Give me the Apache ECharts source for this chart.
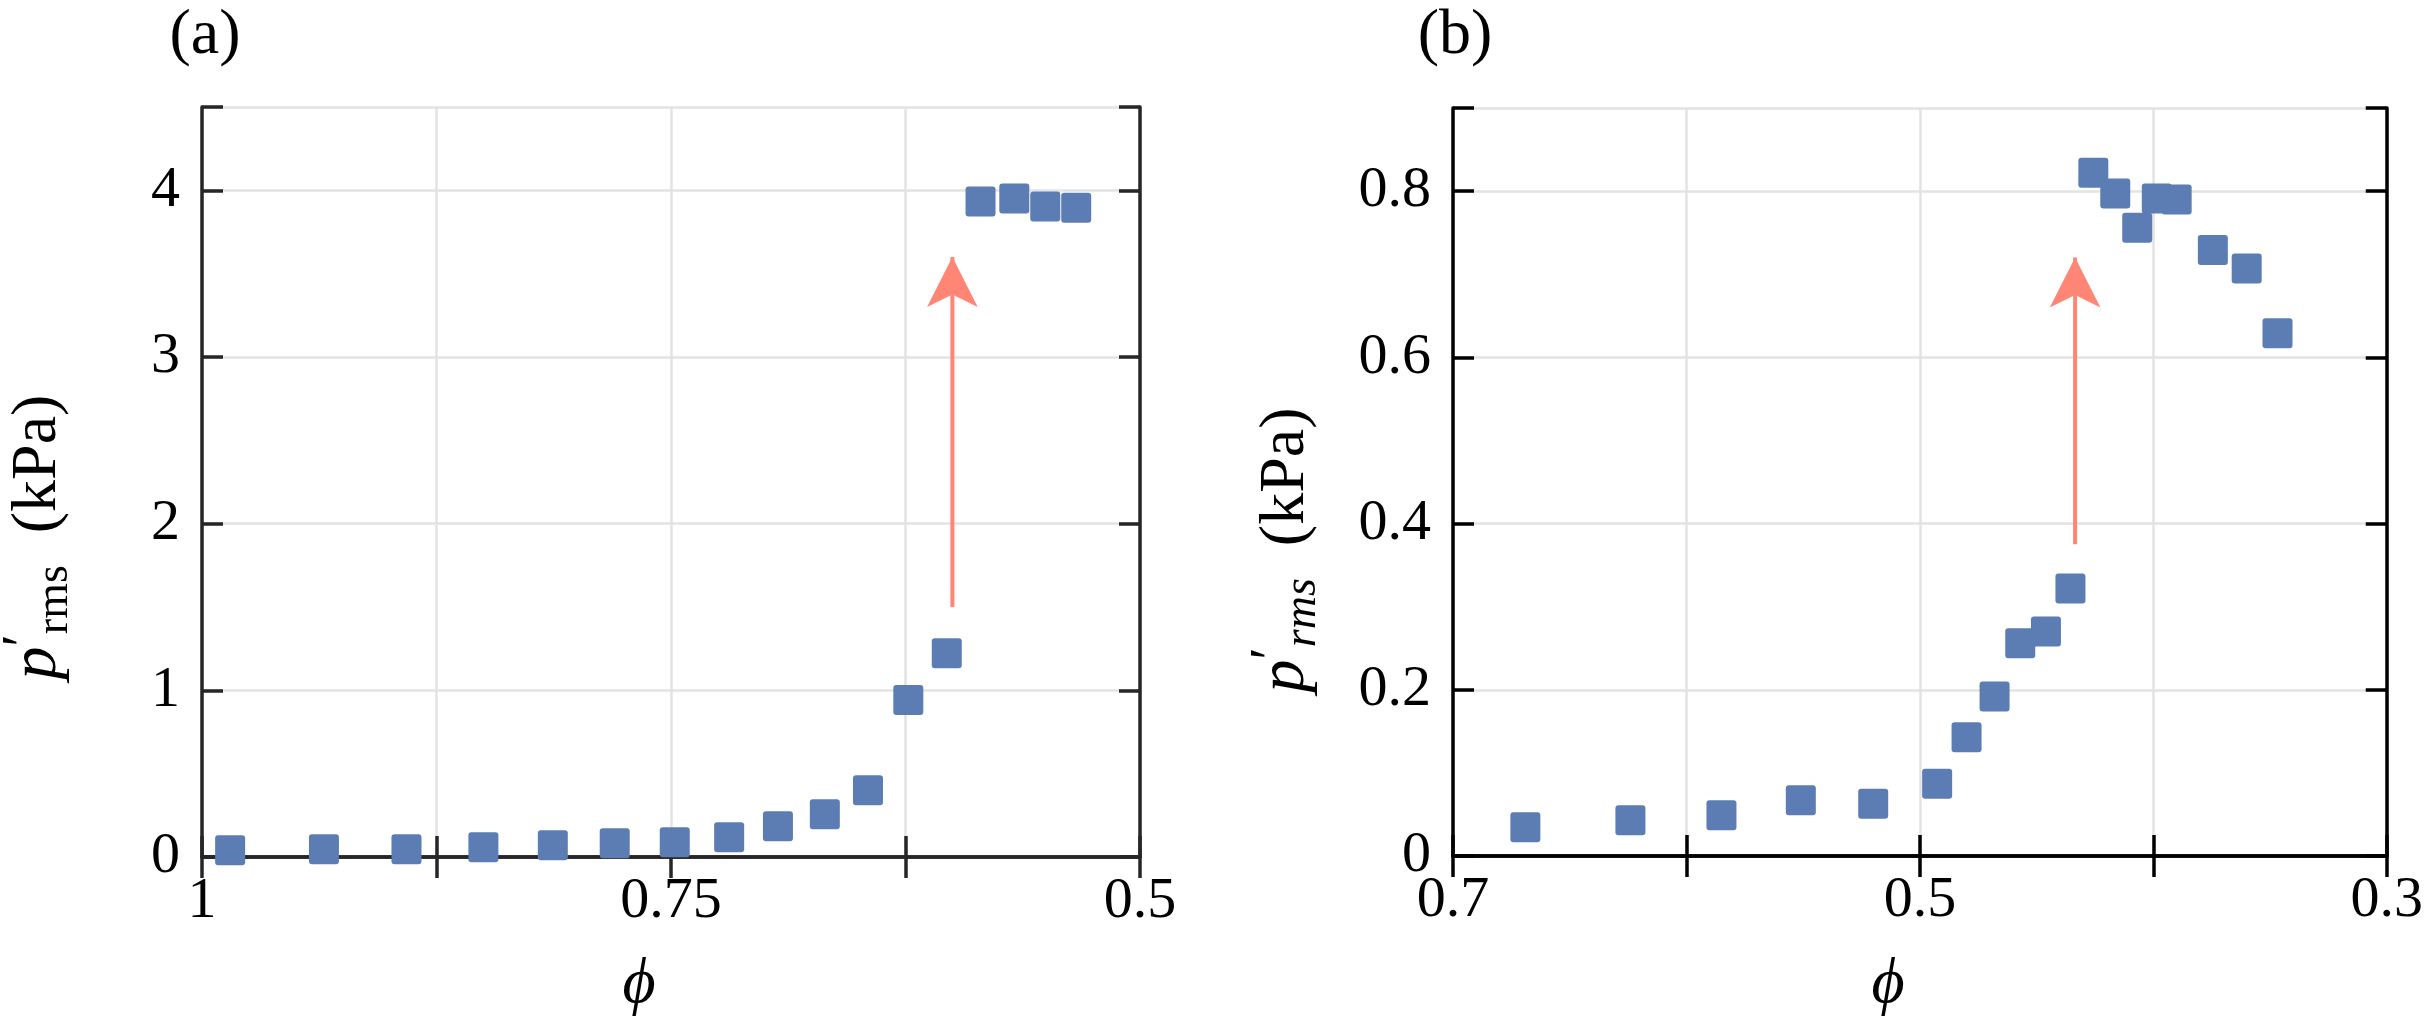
<!DOCTYPE html>
<html lang="en">
<head>
    <meta charset="UTF-8">
    <title>p'rms vs phi</title>
    <script src="https://cdn.jsdelivr.net/npm/echarts@6/dist/echarts.min.js"></script>
    <style>
        html, body { margin: 0; padding: 0; background: #fff; }
        #main { width: 2426px; height: 1018px; }
    </style>
</head>
<body>
<div id="main"></div>

<script type="text/javascript">
    // panel (a)
    var phiA = [0.985, 0.935, 0.891, 0.850, 0.813, 0.780, 0.748, 0.719, 0.693, 0.668, 0.645,
                0.6235, 0.603, 0.585, 0.567, 0.5505, 0.534];
    var prmsA = [0.040, 0.046, 0.046, 0.058, 0.070, 0.082, 0.088, 0.118, 0.184, 0.256, 0.400,
                 0.942, 1.222, 3.933, 3.951, 3.903, 3.896];
    // panel (b)
    var phiB = [0.669, 0.624, 0.585, 0.551, 0.520, 0.4926, 0.480, 0.468, 0.457, 0.446, 0.4355,
                0.4257, 0.4163, 0.4069, 0.3985, 0.390, 0.3745, 0.360, 0.3468];
    var prmsB = [0.0345, 0.043, 0.049, 0.067, 0.063, 0.087, 0.143, 0.192, 0.256, 0.270, 0.322,
                 0.822, 0.797, 0.756, 0.791, 0.790, 0.729, 0.707, 0.629];
    // arrows: x, y start, y end (centre of the head)
    var arrowA = [0.6, 1.5, 3.6];
    var arrowB = [0.4335, 0.375, 0.72];
    // tick labels that are shown
    var xLabelsA = ['1', '0.75', '0.5'];
    var xLabelsB = ['0.7', '0.5', '0.3'];

    var FONT = "'Liberation Serif', 'DejaVu Serif', serif";
    var BLUE = '#5b7db3';
    var SALMON = '#ff8575';
    var SQUARE = 'path://M2,0H18Q20,0 20,2V18Q20,20 18,20H2Q0,20 0,18V2Q0,0 2,0Z';

    function zip(xs, ys) {
        return xs.map(function (x, i) { return [x, ys[i]]; });
    }

    function xAxisPair(gridIndex, min, max, interval, labels, color) {
        var line = { show: true, lineStyle: { color: color, width: 3.5 } };
        var tick = { show: true, inside: true, length: 21, lineStyle: { color: color, width: 3.5 } };
        return [{
            type: 'value', gridIndex: gridIndex, position: 'bottom', inverse: true,
            min: min, max: max, interval: interval,
            axisLine: line, axisTick: tick,
            axisLabel: {
                margin: 16, fontFamily: FONT, fontSize: 58, color: '#000',
                formatter: function (v) {
                    var s = String(+v.toFixed(3));
                    return labels.indexOf(s) >= 0 ? s : '';
                }
            },
            splitLine: { show: true, lineStyle: { color: '#e3e3e3', width: 2.5 } }
        }, {
            type: 'value', gridIndex: gridIndex, position: 'top', inverse: true,
            min: min, max: max, interval: interval,
            axisLine: line, axisTick: tick,
            axisLabel: { show: false }, splitLine: { show: false }
        }];
    }

    function yAxisPair(gridIndex, max, interval, color) {
        var line = { show: true, lineStyle: { color: color, width: 3.5 } };
        var tick = { show: true, inside: true, length: 21, lineStyle: { color: color, width: 3.5 } };
        return [{
            type: 'value', gridIndex: gridIndex, position: 'left',
            min: 0, max: max, interval: interval,
            axisLine: line, axisTick: tick,
            axisLabel: {
                margin: 22, fontFamily: FONT, fontSize: 58, color: '#000',
                formatter: function (v) {
                    return v >= max - 1e-9 ? '' : String(+v.toFixed(3));
                }
            },
            splitLine: { show: true, lineStyle: { color: '#e3e3e3', width: 2.5 } }
        }, {
            type: 'value', gridIndex: gridIndex, position: 'right',
            min: 0, max: max, interval: interval,
            axisLine: line, axisTick: tick,
            axisLabel: { show: false }, splitLine: { show: false }
        }];
    }

    function arrowSeries(arrow, xi, yi) {
        return {
            type: 'line', xAxisIndex: xi, yAxisIndex: yi,
            data: [[arrow[0], arrow[1]], [arrow[0], arrow[2]]],
            symbol: function (v, p) { return p.dataIndex === 1 ? 'arrow' : 'none'; },
            symbolSize: [38, 50],
            showAllSymbol: true,
            lineStyle: { color: SALMON, width: 4 },
            itemStyle: { color: SALMON },
            silent: true, z: 3
        };
    }

    function scatterSeries(xs, ys, xi, yi) {
        return {
            type: 'scatter', xAxisIndex: xi, yAxisIndex: yi,
            data: zip(xs, ys),
            symbol: SQUARE, symbolSize: 30,
            itemStyle: { color: BLUE, opacity: 1 },
            silent: true, z: 4
        };
    }

    function yName(x, y, subStyle) {
        return {
            type: 'text', x: x, y: y, rotation: Math.PI / 2, silent: true,
            style: {
                text: '{p|p}{pr|′}{s|rms}{u|  (kPa)}',
                align: 'center', verticalAlign: 'middle',
                fill: '#000',
                rich: {
                    p: { fontFamily: FONT, fontStyle: 'italic', fontSize: 66, lineHeight: 66 },
                    pr: { fontFamily: FONT, fontSize: 56, lineHeight: 80, verticalAlign: 'top' },
                    s: Object.assign({ fontFamily: FONT, fontSize: 46, lineHeight: 36, verticalAlign: 'bottom' }, subStyle),
                    u: { fontFamily: FONT, fontSize: 64, lineHeight: 66 }
                }
            }
        };
    }

    function plainText(x, y, text, italic) {
        return {
            type: 'text', x: x, y: y, silent: true,
            style: {
                text: text, align: 'center', verticalAlign: 'middle',
                fontFamily: FONT, fontSize: 64, fontStyle: italic ? 'italic' : 'normal', fill: '#000'
            }
        };
    }

    var chartDom = document.getElementById('main');
    var myChart = echarts.init(chartDom);

    var xa = xAxisPair(0, 0.5, 1, 0.125, xLabelsA, '#262626');
    var xb = xAxisPair(1, 0.3, 0.7, 0.1, xLabelsB, '#000');
    var ya = yAxisPair(0, 4.5, 1, '#262626');
    var yb = yAxisPair(1, 0.9, 0.2, '#000');

    var option = {
        animation: false,
        backgroundColor: '#fff',
        grid: [
            { left: 202, top: 107, width: 938, height: 750 },
            { left: 1453, top: 108, width: 938, height: 748 }
        ],
        xAxis: [xa[0], xa[1], xb[0], xb[1]],
        yAxis: [ya[0], ya[1], yb[0], yb[1]],
        series: [
            arrowSeries(arrowA, 0, 0),
            scatterSeries(phiA, prmsA, 0, 0),
            arrowSeries(arrowB, 2, 2),
            scatterSeries(phiB, prmsB, 2, 2)
        ],
        graphic: [
            plainText(205, 36, '(a)', false),
            plainText(1455, 36, '(b)', false),
            plainText(639, 985, 'ϕ', true),
            plainText(1888, 985, 'ϕ', true),
            yName(38, 537, { fontStyle: 'normal' }),
            yName(1286, 550, { fontStyle: 'italic' })
        ]
    };

    option && myChart.setOption(option);
</script>
</body>
</html>
